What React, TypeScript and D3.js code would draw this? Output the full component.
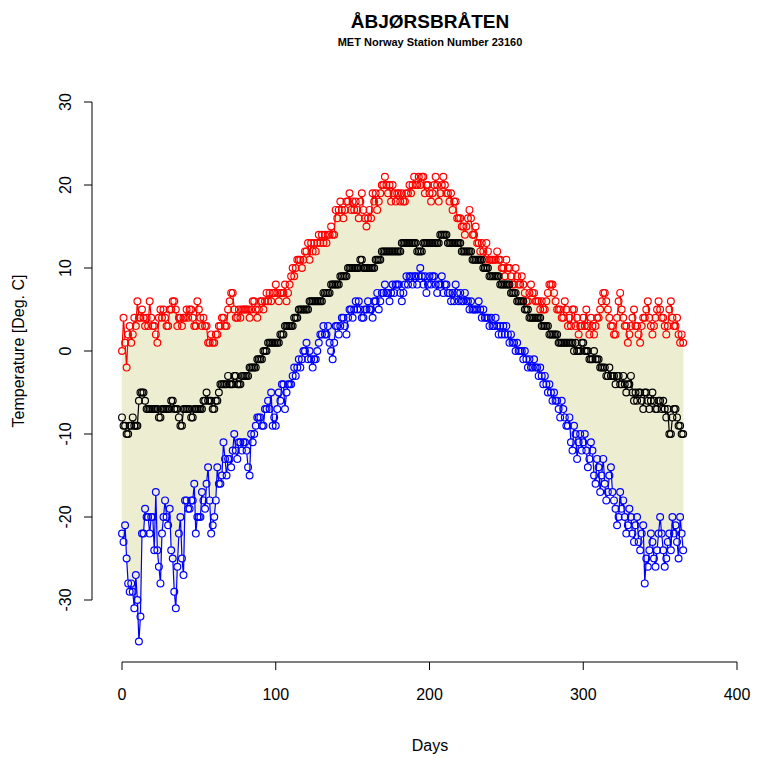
import * as d3 from "d3"

const tmax = [
  0,4,1,-2,2,3,1,2,4,3, 6,4,4,5,4,3,4,3,6,4, 3,3,2,1,4,5,4,5,4,3, 3,5,5,6,6,5,3,4,4,3,
  4,4,5,4,5,5,4,3,3,6, 5,4,3,4,3,3,1,1,2,1, 1,2,2,3,3,4,4,3,3,5, 6,7,7,5,4,4,5,4,5,5,
  5,5,5,4,5,6,6,5,4,5, 6,6,5,6,7,6,7,6,7,7, 8,7,6,7,7,7,8,6,7,8, 9,10,9,10,11,11,11,10,11,12,
  12,13,11,13,12,13,12,13,14,13, 14,13,14,13,14,14,15,14,14,17, 16,17,18,17,16,17,18,18,19,17,
  18,17,18,17,16,18,19,17,16,15, 16,17,16,19,18,19,17,18,19,20, 20,21,20,19,20,18,20,19,18,19,
  19,18,19,18,18,19,19,20,19,20, 21,20,20,21,20,21,21,19,20,20, 19,18,19,20,21,20,18,19,20,21,
  20,19,19,18,19,17,18,18,16,16, 16,15,15,14,15,16,17,16,14,14, 15,13,13,12,13,12,11,13,12,11,
  11,11,11,11,12,11,11,10,10,9, 11,10,10,9,8,8,10,9,8,8, 9,8,7,6,6,7,8,7,7,6,
  6,6,5,6,5,5,6,7,8,8, 8,7,6,5,5,5,4,4,6,5, 3,4,3,5,5,3,4,2,3,3, 4,3,5,3,2,4,3,2,3,4,
  4,5,6,7,7,6,5,4,3,3, 2,2,4,6,7,5,4,3,3,1, 2,3,4,5,3,3,2,1,3,4, 4,5,6,4,3,2,3,4,5,6,
  5,4,4,3,2,3,5,6,4,3, 3,4,2,1,2,1,
]
const tmin = [
  -22,-23,-21,-25,-28,-29,-28,-29,-31,-27, -30,-35,-32,-22,-22,-19,-20,-20,-22,-20,
  -20,-24,-17,-24,-26,-28,-22,-20,-18,-20, -21,-19,-24,-25,-29,-31,-26,-22,-20,-25,
  -27,-18,-18,-19,-19,-18,-18,-16,-22,-20, -20,-20,-17,-18,-19,-16,-14,-18,-22,-21,
  -20,-18,-14,-16,-16,-15,-11,-13,-15,-13, -13,-14,-12,-10,-12,-13,-11,-11,-12,-11,
  -11,-12,-14,-15,-10,-11,-10,-9,-8,-8, -8,-9,-9,-7,-7,-6,-7,-5,-9,-8,
  -9,-7,-5,-6,-4,-4,-7,-5,-4,-4, -4,-3,-2,-3,-2,-1,-2,-1,0,0,
  1,-1,0,-1,-2,-1,-1,0,1,2, 2,3,2,2,3,1,0,-1,1,3, 3,2,3,4,4,3,2,4,5,5,
  4,5,6,5,6,5,4,4,5,5, 6,5,5,4,6,6,7,5,6,7, 7,8,7,7,6,7,8,7,8,8,
  8,7,6,7,8,9,8,9,9,8, 9,9,8,9,10,9,8,9,7,8, 9,8,9,9,8,7,8,8,9,7,
  8,8,7,7,6,7,6,8,7,6, 7,6,6,7,6,6,5,6,5,5, 5,5,6,5,4,5,4,4,4,3,
  4,3,3,4,3,2,3,2,3,2, 3,2,1,2,1,1,0,1,0,0, 0,-1,0,-1,-2,-1,-2,-2,-1,-2,
  -2,-3,-2,-3,-4,-3,-4,-5,-4,-5, -6,-5,-6,-6,-7,-8,-6,-7,-8,-9,
  -9,-8,-11,-12,-9,-10,-13,-11,-10,-12, -11,-10,-12,-14,-13,-11,-12,-15,-16,-13,
  -14,-17,-15,-13,-16,-18,-17,-15,-14,-17, -18,-19,-21,-20,-17,-19,-18,-20,-22,-21,
  -19,-20,-22,-23,-21,-20,-23,-24,-22,-21, -28,-25,-26,-24,-22,-23,-25,-26,-24,-22,
  -20,-22,-24,-26,-25,-23,-22,-24,-20,-22, -21,-23,-25,-20,-22,-24,
]
const tmean = [
  -8,-9,-9,-10,-10,-9,-9,-8,-9,-9, -9,-6,-5,-5,-5,-6,-7,-7,-7,-7, -7,-7,-7,-7,-8,-8,-7,-7,-7,-7,
  -7,-7,-6,-6,-7,-7,-7,-8,-9,-9, -7,-7,-7,-7,-7,-8,-8,-7,-7,-7, -7,-7,-7,-6,-6,-5,-6,-6,-6,-7,
  -7,-6,-6,-5,-4,-4,-4,-4,-4,-3, -4,-4,-4,-3,-3,-4,-4,-4,-3,-3, -3,-3,-3,-2,-2,-2,-2,-2,-1,-1,
  -1,-1,0,0,0,1,1,1,1,1, 1,1,1,2,2,2,3,3,3,3, 3,3,4,4,4,5,5,5,5,5, 5,5,6,6,6,6,6,6,6,6,
  6,7,7,7,7,7,8,8,8,8, 8,8,9,9,9,9,9,10,10,10, 10,10,10,10,10,11,11,10,10,10,
  10,10,10,10,10,11,11,11,11,12, 12,12,12,12,12,12,12,12,12,12, 12,12,13,13,13,13,13,13,13,13,
  13,13,12,12,12,12,13,13,13,13, 13,13,13,13,13,13,13,14,14,14, 14,14,13,13,13,13,13,13,13,13,
  13,12,12,12,12,12,12,12,11,11, 11,11,11,11,11,10,10,10,10,9, 9,9,9,9,9,9,8,8,8,8,
  8,8,8,7,7,7,7,6,6,6, 6,6,5,5,5,4,4,4,4,4, 4,4,4,3,3,3,3,3,2,2, 2,2,2,2,1,1,1,1,1,1,
  1,1,1,1,0,1,0,0,0,1, 1,0,0,0,-1,-1,-1,0,-1,-1, -1,-2,-2,-2,-2,-3,-3,-2,-3,-3,
  -3,-4,-3,-3,-4,-4,-3,-4,-5,-4, -4,-3,-5,-6,-5,-6,-5,-5,-6,-7, -5,-5,-6,-7,-6,-5,-6,-7,-7,-6,
  -6,-7,-6,-7,-8,-7,-10,-10,-8,-7, -7,-8,-9,-9,-10,-10,
]
const xTicks = [0, 100, 200, 300, 400]
const yTicks = [-30, -20, -10, 0, 10, 20, 30]

const R = 3.4

export default function App() {
  const x = d3.scaleLinear().domain([0, 400]).range([122, 737])
  const y = d3.scaleLinear().domain([-30, 30]).range([600, 102])
  const font = "Liberation Sans, Arial, sans-serif"
  const area = d3.area<number>()
    .x((_, i) => x(i))
    .y0((_, i) => y(tmin[i]))
    .y1(d => y(d))
  const series: [number[], string][] = [[tmax, "#ff0000"], [tmin, "#0000ff"], [tmean, "#000000"]]
  // R type="b": segments between points with a gap round each point
  const gapped = (data: number[]) => {
    let d = ""
    for (let i = 1; i < data.length; i++) {
      const x0 = x(i - 1), y0 = y(data[i - 1]), x1 = x(i), y1 = y(data[i])
      const len = Math.hypot(x1 - x0, y1 - y0)
      if (len <= 2 * R) continue
      const ux = (x1 - x0) / len, uy = (y1 - y0) / len
      d += `M${x0 + ux * R},${y0 + uy * R}L${x1 - ux * R},${y1 - uy * R}`
    }
    return d
  }
  return (
    <svg width={757} height={758} style={{ position: "absolute", left: 0, top: 0 }} fontFamily={font}>
      <rect width={757} height={758} fill="#fff" />
      <path d={area(tmax) ?? ""} fill="#ededd1" stroke="#ededd1" strokeWidth={0.5} />
      {series.map(([data, c], k) => (
        <g key={k}>
          <path d={gapped(data)} fill="none" stroke={c} strokeWidth={1.2} />
          {data.map((v, i) => (
            <circle key={i} cx={x(i)} cy={y(v)} r={R} fill="none" stroke={c} strokeWidth={1.2} />
          ))}
        </g>
      ))}
      <line x1={x(0)} x2={x(400)} y1={662} y2={662} stroke="#000" />
      {xTicks.map(t => (
        <g key={t}>
          <line x1={x(t)} x2={x(t)} y1={662} y2={670} stroke="#000" />
          <text x={x(t)} y={700} textAnchor="middle" fontSize={16}>{t}</text>
        </g>
      ))}
      <line x1={92} x2={92} y1={y(-30)} y2={y(30)} stroke="#000" />
      {yTicks.map(t => (
        <g key={t}>
          <line x1={84} x2={92} y1={y(t)} y2={y(t)} stroke="#000" />
          <text transform={`translate(71,${y(t)}) rotate(-90)`} textAnchor="middle" fontSize={16}>{t}</text>
        </g>
      ))}
      <text x={430} y={751} textAnchor="middle" fontSize={16}>Days</text>
      <text transform="translate(24,351) rotate(-90)" textAnchor="middle" fontSize={16}>Temperature [Deg. C]</text>
      <text x={430} y={28} textAnchor="middle" fontSize={19} fontWeight="bold">ÅBJØRSBRÅTEN</text>
      <text x={430} y={46} textAnchor="middle" fontSize={11} fontWeight="bold">MET Norway Station Number 23160</text>
    </svg>
  )
}
